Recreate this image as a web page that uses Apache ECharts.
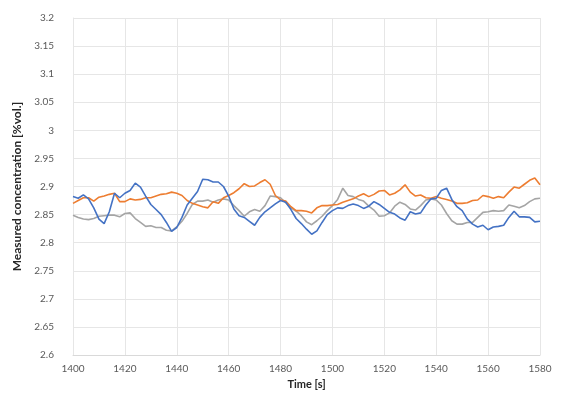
<!DOCTYPE html>
<html>
<head>
<meta charset="utf-8">
<script src="https://cdn.jsdelivr.net/npm/echarts@6/dist/echarts.min.js"></script>
<style>html,body{margin:0;padding:0;background:#fff}#c{width:566px;height:400px}</style>
</head>
<body>
<div id="c"></div>
<script>
var times = [1400,1402,1404,1406,1408,1410,1412,1414,1416,1418,1420,1422,1424,1426,1428,1430,1432,1434,1436,1438,1440,1442,1444,1446,1448,1450,1452,1454,1456,1458,1460,1462,1464,1466,1468,1470,1472,1474,1476,1478,1480,1482,1484,1486,1488,1490,1492,1494,1496,1498,1500,1502,1504,1506,1508,1510,1512,1514,1516,1518,1520,1522,1524,1526,1528,1530,1532,1534,1536,1538,1540,1542,1544,1546,1548,1550,1552,1554,1556,1558,1560,1562,1564,1566,1568,1570,1572,1574,1576,1578,1580];
var blueSeries = [2.882,2.879,2.885,2.878,2.862,2.842,2.834,2.855,2.888,2.880,2.888,2.893,2.906,2.899,2.883,2.868,2.859,2.850,2.836,2.820,2.827,2.845,2.867,2.879,2.891,2.913,2.912,2.908,2.908,2.900,2.883,2.860,2.848,2.845,2.838,2.831,2.845,2.855,2.862,2.869,2.875,2.872,2.859,2.843,2.834,2.824,2.815,2.821,2.836,2.850,2.857,2.862,2.861,2.866,2.869,2.866,2.861,2.865,2.873,2.868,2.861,2.854,2.851,2.844,2.840,2.855,2.851,2.853,2.867,2.878,2.879,2.893,2.897,2.877,2.864,2.857,2.842,2.833,2.828,2.831,2.823,2.828,2.829,2.831,2.845,2.856,2.846,2.846,2.845,2.837,2.838];
var orangeSeries = [2.870,2.875,2.880,2.880,2.874,2.881,2.883,2.886,2.888,2.873,2.873,2.878,2.876,2.877,2.880,2.880,2.883,2.886,2.887,2.890,2.888,2.884,2.875,2.870,2.867,2.864,2.862,2.873,2.870,2.880,2.884,2.889,2.896,2.905,2.900,2.901,2.907,2.912,2.904,2.884,2.876,2.874,2.864,2.857,2.857,2.856,2.853,2.862,2.866,2.866,2.867,2.868,2.872,2.875,2.878,2.883,2.887,2.882,2.886,2.892,2.893,2.885,2.888,2.894,2.903,2.890,2.883,2.885,2.880,2.879,2.882,2.879,2.877,2.874,2.870,2.870,2.871,2.875,2.876,2.884,2.882,2.879,2.882,2.880,2.890,2.899,2.897,2.904,2.911,2.915,2.903];
var graySeries = [2.849,2.845,2.842,2.841,2.843,2.847,2.848,2.849,2.849,2.846,2.852,2.853,2.843,2.836,2.829,2.830,2.827,2.827,2.822,2.821,2.828,2.838,2.852,2.868,2.874,2.874,2.876,2.872,2.876,2.878,2.876,2.866,2.857,2.847,2.855,2.859,2.856,2.866,2.883,2.882,2.880,2.871,2.862,2.856,2.848,2.837,2.832,2.839,2.847,2.857,2.866,2.877,2.897,2.884,2.882,2.877,2.874,2.865,2.858,2.847,2.848,2.853,2.865,2.872,2.868,2.860,2.858,2.866,2.876,2.878,2.876,2.867,2.852,2.839,2.833,2.833,2.836,2.836,2.845,2.854,2.855,2.857,2.856,2.857,2.867,2.865,2.862,2.866,2.873,2.878,2.879];
var xName = 'Time [s]';
var yName = 'Measured concentration [%vol.]';

function pairs(vals){ return times.map(function(t,i){ return [t, vals[i]]; }); }
var font = 'Lato, "Open Sans", sans-serif';
var chart = echarts.init(document.getElementById('c'), null, {renderer:'canvas'});
function line(name, vals, color){
  return {name:name, type:'line', data:pairs(vals), showSymbol:false, symbol:'none',
    lineStyle:{color:color, width:1.6}, itemStyle:{color:color}, animation:false};
}
chart.setOption({
  animation:false,
  grid:{left:73, right:26, top:18, bottom:45},
  xAxis:{type:'value', min:1400, max:1580, interval:20,
    name:xName, nameLocation:'middle', nameGap:24,
    nameTextStyle:{fontFamily:font, fontSize:11, fontWeight:'bold', color:'#262626'},
    axisLine:{show:true, lineStyle:{color:'#D9D9D9'}}, axisTick:{show:false},
    axisLabel:{fontFamily:font, fontSize:10, color:'#595959', margin:9,
      formatter:function(v){ return String(Math.round(v)); }},
    splitLine:{show:true, lineStyle:{color:'#E6E6E6', width:1}}},
  yAxis:{type:'value', min:2.6, max:3.2, interval:0.05,
    name:yName, nameLocation:'middle', nameGap:49, nameRotate:90,
    nameTextStyle:{fontFamily:font, fontSize:12, fontWeight:'bold', color:'#262626'},
    axisLine:{show:true, lineStyle:{color:'#E6E6E6'}}, axisTick:{show:false},
    axisLabel:{fontFamily:font, fontSize:10, color:'#595959', margin:19,
      formatter:function(v){ return String(parseFloat(v.toFixed(2))); }},
    splitLine:{show:true, lineStyle:{color:'#E6E6E6', width:1}}},
  series:[ line('Gray', graySeries, '#A5A5A5'), line('Orange', orangeSeries, '#ED7D31'), line('Blue', blueSeries, '#4472C4') ]
});
</script>
</body>
</html>
